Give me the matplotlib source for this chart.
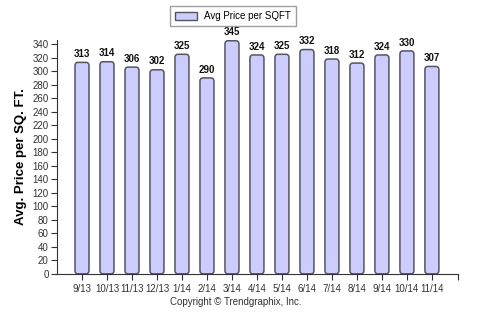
import matplotlib
matplotlib.use("Agg")
import matplotlib.pyplot as plt
from matplotlib.patches import FancyBboxPatch

plt.rcParams["font.family"] = ["Liberation Sans", "DejaVu Sans"]

months = ["9/13", "10/13", "11/13", "12/13", "1/14", "2/14", "3/14", "4/14",
          "5/14", "6/14", "7/14", "8/14", "9/14", "10/14", "11/14"]
price_sqft = [313, 314, 306, 302, 325, 290, 345, 324, 325, 332, 318, 312, 324, 330, 307]
y_ticks = list(range(0, 341, 20))

fig = plt.figure(figsize=(4.81, 3.26), dpi=100)
ax = fig.add_axes([0.1185, 0.16, 0.8335, 0.717])

x = list(range(len(months)))
bars = ax.bar(x, price_sqft, width=0.56, color="#ccccff", edgecolor="#555560",
              linewidth=1.1, label="Avg Price per SQFT")

# give the bars slightly rounded tops like the original
for b in bars:
    b.set_visible(False)
    p = FancyBboxPatch((b.get_x(), b.get_y()), b.get_width(), b.get_height(),
                       boxstyle="round,pad=0,rounding_size=0.12",
                       mutation_aspect=40, facecolor="#ccccff",
                       edgecolor="#555560", linewidth=1.1)
    ax.add_patch(p)

for xi, v in zip(x, price_sqft):
    ax.text(xi, v + 5, str(v), ha="center", va="bottom", fontsize=7,
            fontweight="bold", color="#111111")

ax.set_xlim(-1, 15.04)
ax.set_ylim(0, 346)
ax.set_xticks(x + [15.04])
ax.set_xticklabels(months + [""], fontsize=7, color="#333333")
ax.set_yticks(y_ticks)
ax.set_yticklabels([str(t) for t in y_ticks], fontsize=7, color="#333333")
ax.tick_params(length=4, width=0.8, color="#333333", pad=2)
ax.tick_params(axis="x", pad=3)
ax.spines["top"].set_visible(False)
ax.spines["right"].set_visible(False)
ax.spines["left"].set_color("#333333")
ax.spines["bottom"].set_color("#333333")
ax.set_ylabel("Avg. Price per SQ. FT.", fontsize=9.5, fontweight="bold", labelpad=4)

handle = plt.Rectangle((0, 0), 1, 1, facecolor="#ccccff", edgecolor="#555560")
fig.legend([handle], ["Avg Price per SQFT"], loc="upper center",
           bbox_to_anchor=(0.485, 0.995), fontsize=7, frameon=True,
           fancybox=False, edgecolor="#888888", handlelength=2.2,
           handleheight=0.8, borderpad=0.5)

fig.text(0.49, 0.075, "Copyright \u00a9 Trendgraphix, Inc.", ha="center",
         va="center", fontsize=7, color="#333333")

fig.savefig("out.png", dpi=100)
